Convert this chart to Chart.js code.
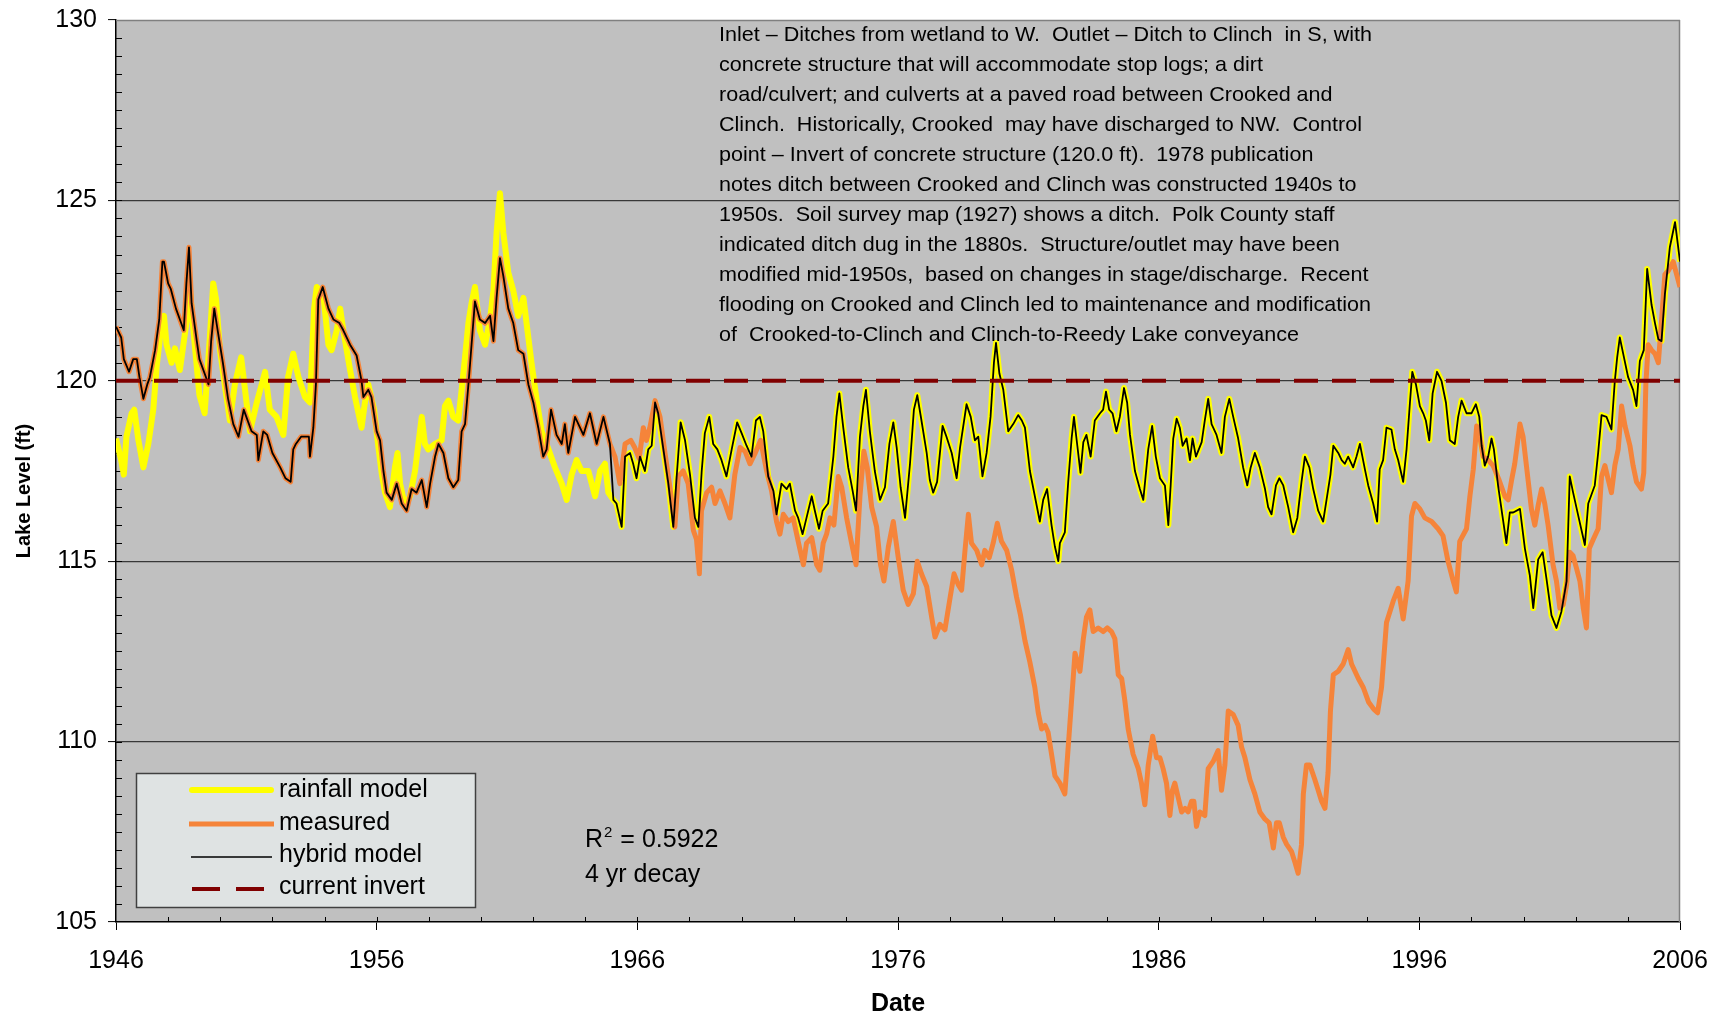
<!DOCTYPE html>
<html>
<head>
<meta charset="utf-8">
<title>Lake Level</title>
<script src="https://cdn.jsdelivr.net/npm/chart.js@4.4.1/dist/chart.umd.min.js"></script>
<style>
  html, body { margin: 0; padding: 0; background: #ffffff; }
  #wrap { width: 1721px; height: 1019px; }
</style>
</head>
<body>
<div id="wrap"><canvas id="lake" width="1721" height="1019"></canvas></div>
<script>
// ---- Lake stage, ft (decimal year, level) ----

// Measured stage 1946-1965; the hybrid model uses these values over this span.
const measuredEarly = [
  [1946.0,121.5],[1946.2,121.2],[1946.3,120.6],[1946.5,120.25],[1946.66,120.6],[1946.8,120.6],[1946.9,120.1],[1947.05,119.5],[1947.2,119.9],[1947.3,120.1],
  [1947.5,120.85],[1947.66,121.7],[1947.78,123.3],[1947.84,123.3],[1948.0,122.7],[1948.1,122.55],[1948.3,122.0],[1948.6,121.4],[1948.7,122.7],[1948.8,123.7],
  [1948.9,122.15],[1949.1,121.1],[1949.2,120.6],[1949.5,120.0],[1949.55,119.9],[1949.65,121.1],[1949.77,122.0],[1949.9,121.4],[1950.1,120.5],[1950.3,119.5],
  [1950.5,118.8],[1950.7,118.45],[1950.9,119.2],[1951.0,119.0],[1951.2,118.6],[1951.4,118.5],[1951.46,117.8],[1951.65,118.6],[1951.8,118.5],[1952.0,118.0],
  [1952.3,117.6],[1952.5,117.3],[1952.7,117.2],[1952.8,118.1],[1952.9,118.25],[1953.1,118.45],[1953.4,118.45],[1953.44,117.9],[1953.57,118.7],[1953.67,119.9],
  [1953.76,122.25],[1953.93,122.6],[1954.15,122.0],[1954.34,121.7],[1954.57,121.6],[1954.72,121.4],[1954.98,121.0],[1955.23,120.7],[1955.42,120.0],[1955.49,119.55],
  [1955.68,119.75],[1955.8,119.55],[1956.0,118.6],[1956.13,118.35],[1956.26,117.5],[1956.38,116.9],[1956.58,116.7],[1956.77,117.15],[1956.96,116.6],[1957.15,116.4],
  [1957.34,117.0],[1957.53,116.9],[1957.73,117.25],[1957.92,116.5],[1958.05,117.15],[1958.24,117.9],[1958.37,118.25],[1958.56,118.0],[1958.75,117.3],[1958.94,117.05],
  [1959.13,117.25],[1959.26,118.6],[1959.39,118.8],[1959.52,119.9],[1959.64,121.0],[1959.77,122.2],[1959.96,121.7],[1960.16,121.6],[1960.35,121.8],[1960.48,121.1],
  [1960.6,122.3],[1960.73,123.4],[1960.86,122.9],[1961.05,122.0],[1961.24,121.6],[1961.43,120.85],[1961.63,120.75],[1961.82,119.9],[1962.01,119.4],[1962.2,118.7],
  [1962.39,117.9],[1962.52,118.1],[1962.69,119.2],[1962.9,118.5],[1963.1,118.25],[1963.22,118.8],[1963.35,118.0],[1963.61,119.0],[1963.93,118.5],[1964.18,119.1],
  [1964.44,118.25],[1964.7,119.0],[1964.95,118.25]
];

// Measured stage 1965-2006.
const measuredLate = [
  [1965.14,117.9],[1965.33,117.15],[1965.53,118.25],[1965.75,118.35],[1965.9,118.15],[1966.07,117.85],[1966.23,118.7],[1966.35,118.35],[1966.48,118.7],[1966.68,119.45],
  [1966.87,119.0],[1967.06,118.0],[1967.25,117.05],[1967.44,115.95],[1967.57,117.35],[1967.76,117.5],[1967.95,117.15],[1968.15,115.85],[1968.27,115.6],[1968.38,114.65],
  [1968.46,116.4],[1968.66,116.9],[1968.85,117.05],[1968.98,116.6],[1969.17,116.95],[1969.36,116.6],[1969.55,116.2],[1969.74,117.4],[1969.94,118.15],[1970.13,118.05],
  [1970.32,117.7],[1970.51,117.98],[1970.73,118.35],[1970.96,117.5],[1971.15,116.95],[1971.34,116.1],[1971.47,115.75],[1971.6,116.3],[1971.79,116.1],[1971.98,116.2],
  [1972.17,115.55],[1972.37,114.9],[1972.49,115.5],[1972.69,115.65],[1972.88,114.9],[1973.0,114.75],[1973.13,115.5],[1973.26,115.75],[1973.39,116.2],[1973.54,116.0],
  [1973.71,117.35],[1973.84,117.05],[1974.03,116.2],[1974.22,115.5],[1974.39,114.9],[1974.54,116.8],[1974.69,118.05],[1974.82,117.6],[1974.99,116.5],[1975.18,115.95],
  [1975.33,114.9],[1975.46,114.45],[1975.63,115.4],[1975.82,116.1],[1976.01,115.1],[1976.2,114.2],[1976.39,113.8],[1976.59,114.1],[1976.74,115.0],[1976.9,114.65],
  [1977.1,114.3],[1977.29,113.45],[1977.42,112.9],[1977.61,113.25],[1977.8,113.1],[1978.0,114.0],[1978.15,114.65],[1978.31,114.35],[1978.44,114.2],[1978.57,115.3],
  [1978.7,116.3],[1978.82,115.5],[1979.02,115.3],[1979.21,114.9],[1979.33,115.3],[1979.5,115.1],[1979.65,115.5],[1979.81,116.05],[1979.97,115.55],[1980.17,115.3],
  [1980.36,114.75],[1980.55,114.0],[1980.7,113.5],[1980.87,112.8],[1981.06,112.2],[1981.25,111.5],[1981.38,110.8],[1981.51,110.35],[1981.64,110.45],[1981.76,110.25],
  [1981.89,109.65],[1982.02,109.05],[1982.21,108.85],[1982.4,108.55],[1982.53,109.85],[1982.66,111.15],[1982.79,112.45],[1982.98,111.95],[1983.11,112.85],[1983.23,113.45],
  [1983.36,113.65],[1983.49,113.05],[1983.68,113.15],[1983.87,113.05],[1984.03,113.15],[1984.19,113.05],[1984.32,112.85],[1984.45,111.85],[1984.58,111.75],[1984.7,111.15],
  [1984.83,110.35],[1985.02,109.65],[1985.22,109.25],[1985.34,108.85],[1985.47,108.25],[1985.6,109.35],[1985.77,110.15],[1985.92,109.55],[1986.05,109.55],[1986.17,109.25],
  [1986.3,108.85],[1986.43,107.95],[1986.53,108.65],[1986.62,108.85],[1986.75,108.45],[1986.88,108.05],[1987.01,108.15],[1987.13,108.05],[1987.26,108.35],[1987.35,108.35],
  [1987.45,107.65],[1987.58,108.05],[1987.77,107.95],[1987.9,109.25],[1988.09,109.45],[1988.28,109.75],[1988.41,108.65],[1988.54,109.35],[1988.67,110.85],[1988.86,110.75],
  [1989.05,110.45],[1989.18,109.85],[1989.31,109.55],[1989.5,108.95],[1989.69,108.55],[1989.88,108.05],[1990.08,107.85],[1990.24,107.75],[1990.4,107.05],[1990.52,107.75],
  [1990.63,107.75],[1990.78,107.35],[1990.91,107.15],[1991.1,106.95],[1991.23,106.65],[1991.35,106.35],[1991.48,107.15],[1991.55,108.55],[1991.67,109.35],[1991.8,109.35],
  [1991.99,108.95],[1992.12,108.65],[1992.25,108.35],[1992.38,108.15],[1992.5,109.15],[1992.59,110.85],[1992.7,111.85],[1992.89,111.95],[1993.08,112.15],[1993.27,112.55],
  [1993.4,112.15],[1993.53,111.95],[1993.66,111.75],[1993.85,111.5],[1994.05,111.1],[1994.25,110.9],[1994.4,110.8],[1994.55,111.5],[1994.74,113.3],[1995.0,113.9],
  [1995.19,114.25],[1995.38,113.4],[1995.57,114.45],[1995.7,116.25],[1995.83,116.6],[1996.02,116.45],[1996.21,116.2],[1996.47,116.1],[1996.72,115.9],[1996.91,115.7],
  [1997.1,115.0],[1997.3,114.45],[1997.42,114.15],[1997.55,115.55],[1997.81,115.9],[1997.94,116.8],[1998.07,117.55],[1998.2,118.75],[1998.32,118.45],[1998.45,117.9],
  [1998.64,117.8],[1998.83,117.65],[1999.06,117.25],[1999.28,116.8],[1999.41,116.7],[1999.54,117.25],[1999.66,117.7],[1999.86,118.8],[1999.98,118.45],[2000.18,117.2],
  [2000.3,116.45],[2000.43,116.0],[2000.56,116.55],[2000.69,117.0],[2000.81,116.6],[2000.94,116.0],[2001.13,114.9],[2001.26,114.45],[2001.39,113.7],[2001.52,113.8],
  [2001.65,114.35],[2001.77,115.25],[2001.9,115.15],[2002.03,114.8],[2002.16,114.45],[2002.29,113.7],[2002.41,113.15],[2002.52,115.35],[2002.67,115.6],[2002.86,115.9],
  [2002.99,117.35],[2003.12,117.65],[2003.25,117.25],[2003.37,116.9],[2003.5,117.65],[2003.63,118.1],[2003.76,119.3],[2003.89,118.75],[2004.08,118.2],[2004.2,117.65],
  [2004.33,117.2],[2004.52,117.0],[2004.61,117.45],[2004.69,119.9],[2004.78,121.0],[2004.91,120.85],[2005.04,120.75],[2005.17,120.5],[2005.29,121.65],[2005.42,122.95],
  [2005.55,123.05],[2005.74,123.3],[2005.87,122.95],[2006.0,122.6]
];

// Rainfall model 1946-1965.
const rainfallEarly = [
  [1946.0,118.4],[1946.2,117.8],[1946.3,117.4],[1946.4,118.45],[1946.6,119.1],[1946.7,119.2],[1946.86,118.35],[1947.05,117.6],[1947.24,118.25],[1947.43,119.2],
  [1947.56,120.4],[1947.75,121.6],[1947.84,121.8],[1947.94,121.0],[1948.13,120.5],[1948.26,120.9],[1948.45,120.3],[1948.7,121.6],[1948.84,122.5],[1948.97,121.4],
  [1949.2,119.6],[1949.4,119.1],[1949.6,121.2],[1949.73,122.7],[1949.84,122.25],[1949.99,120.85],[1950.2,119.75],[1950.37,118.9],[1950.56,119.9],[1950.8,120.65],
  [1950.95,119.75],[1951.14,118.6],[1951.4,119.4],[1951.72,120.25],[1951.9,119.2],[1952.16,119.0],[1952.42,118.5],[1952.6,120.1],[1952.8,120.75],[1953.0,120.1],
  [1953.25,119.55],[1953.44,119.4],[1953.6,122.0],[1953.7,122.6],[1953.95,122.4],[1954.15,121.0],[1954.27,120.85],[1954.47,121.4],[1954.6,122.0],[1954.72,121.4],
  [1954.98,120.3],[1955.17,119.55],[1955.42,118.7],[1955.55,119.4],[1955.68,119.9],[1955.9,119.2],[1956.06,118.2],[1956.2,117.4],[1956.32,116.9],[1956.51,116.5],
  [1956.7,117.6],[1956.8,118.0],[1956.9,117.15],[1957.09,116.5],[1957.28,116.8],[1957.47,117.5],[1957.73,119.0],[1957.85,118.25],[1957.98,118.1],[1958.24,118.25],
  [1958.49,118.35],[1958.62,119.3],[1958.75,119.45],[1958.94,119.0],[1959.13,118.9],[1959.26,119.75],[1959.39,120.65],[1959.52,121.6],[1959.64,122.15],[1959.77,122.6],
  [1959.96,121.4],[1960.16,121.0],[1960.35,121.7],[1960.48,122.5],[1960.6,124.1],[1960.73,125.2],[1960.86,124.1],[1961.05,123.0],[1961.24,122.5],[1961.43,121.8],
  [1961.63,122.3],[1961.75,121.6],[1961.94,120.5],[1962.14,119.45],[1962.33,118.6],[1962.59,118.1],[1962.84,117.6],[1963.1,117.15],[1963.29,116.7],[1963.48,117.4],
  [1963.67,117.8],[1963.86,117.5],[1964.12,117.5],[1964.38,116.8],[1964.57,117.5],[1964.76,117.7],[1964.89,116.9]
];

// Model stage 1965-2006, where the rainfall and hybrid models coincide.
const modelLate = [
  [1965.08,116.7],[1965.2,116.6],[1965.4,115.95],[1965.53,117.9],[1965.72,118.0],[1965.84,117.7],[1965.97,117.3],[1966.1,117.9],[1966.29,117.5],[1966.42,118.1],
  [1966.55,118.2],[1966.68,119.4],[1966.8,119.1],[1967.0,118.1],[1967.19,117.15],[1967.38,115.95],[1967.5,117.25],[1967.66,118.85],[1967.83,118.35],[1968.02,117.4],
  [1968.21,116.2],[1968.34,115.95],[1968.47,117.5],[1968.59,118.55],[1968.76,119.0],[1968.91,118.25],[1969.07,118.1],[1969.23,117.8],[1969.42,117.35],[1969.62,118.1],
  [1969.83,118.85],[1970.0,118.55],[1970.19,118.2],[1970.38,117.9],[1970.55,118.9],[1970.7,119.0],[1970.83,118.6],[1971.02,117.35],[1971.22,116.95],[1971.34,116.3],
  [1971.53,117.15],[1971.73,117.0],[1971.85,117.15],[1972.05,116.4],[1972.17,116.2],[1972.34,115.75],[1972.49,116.2],[1972.69,116.8],[1972.81,116.4],[1972.97,115.9],
  [1973.11,116.4],[1973.32,116.6],[1973.52,117.9],[1973.64,119.0],[1973.75,119.65],[1973.9,118.7],[1974.09,117.6],[1974.26,116.95],[1974.39,116.4],[1974.54,118.45],
  [1974.67,119.3],[1974.77,119.75],[1974.92,118.6],[1975.11,117.5],[1975.31,116.7],[1975.5,117.05],[1975.67,118.25],[1975.82,118.85],[1975.95,118.15],[1976.1,117.05],
  [1976.27,116.2],[1976.46,117.7],[1976.61,119.2],[1976.74,119.6],[1976.9,118.9],[1977.1,118.0],[1977.22,117.25],[1977.35,116.9],[1977.5,117.2],[1977.71,118.75],
  [1977.86,118.45],[1978.06,118.0],[1978.25,117.3],[1978.38,118.15],[1978.63,119.35],[1978.79,119.0],[1978.95,118.35],[1979.08,118.45],[1979.24,117.35],[1979.4,118.0],
  [1979.55,119.0],[1979.68,120.5],[1979.76,121.05],[1979.89,120.2],[1980.04,119.75],[1980.23,118.6],[1980.42,118.8],[1980.61,119.05],[1980.75,118.9],[1980.87,118.7],
  [1981.06,117.5],[1981.25,116.8],[1981.44,116.1],[1981.57,116.7],[1981.72,117.0],[1981.89,116.0],[1982.02,115.4],[1982.15,115.0],[1982.21,115.5],[1982.4,115.8],
  [1982.53,117.2],[1982.66,118.4],[1982.75,119.0],[1982.88,118.2],[1983.0,117.45],[1983.11,118.3],[1983.23,118.5],[1983.39,117.9],[1983.55,118.9],[1983.75,119.1],
  [1983.87,119.2],[1983.98,119.7],[1984.1,119.2],[1984.23,119.1],[1984.38,118.6],[1984.51,119.0],[1984.67,119.8],[1984.79,119.4],[1984.9,118.5],[1985.09,117.5],
  [1985.28,117.0],[1985.41,116.7],[1985.6,118.1],[1985.75,118.75],[1985.89,117.9],[1986.05,117.3],[1986.24,117.1],[1986.37,116.0],[1986.46,117.1],[1986.56,118.4],
  [1986.69,118.95],[1986.81,118.7],[1986.92,118.2],[1987.07,118.4],[1987.2,117.8],[1987.3,118.4],[1987.43,117.9],[1987.65,118.3],[1987.77,118.9],[1987.9,119.5],
  [1988.03,118.8],[1988.22,118.5],[1988.41,118.0],[1988.54,119.0],[1988.71,119.5],[1988.86,119.0],[1989.05,118.4],[1989.24,117.6],[1989.4,117.1],[1989.53,117.6],
  [1989.69,118.0],[1989.88,117.6],[1990.08,117.0],[1990.2,116.5],[1990.33,116.3],[1990.5,117.1],[1990.63,117.3],[1990.78,117.1],[1990.97,116.5],[1991.16,115.8],
  [1991.32,116.2],[1991.48,117.2],[1991.61,117.9],[1991.78,117.6],[1991.93,117.0],[1992.12,116.4],[1992.31,116.1],[1992.44,116.7],[1992.59,117.4],[1992.7,118.2],
  [1992.89,118.0],[1993.02,117.8],[1993.14,117.7],[1993.27,117.9],[1993.46,117.6],[1993.59,117.9],[1993.72,118.25],[1993.91,117.55],[1994.04,117.1],[1994.23,116.6],
  [1994.38,116.1],[1994.48,117.55],[1994.61,117.8],[1994.74,118.7],[1994.93,118.65],[1995.06,118.1],[1995.19,117.8],[1995.38,117.2],[1995.51,118.1],[1995.64,119.4],
  [1995.73,120.25],[1995.87,119.9],[1996.02,119.3],[1996.15,119.1],[1996.25,118.9],[1996.38,118.35],[1996.51,119.65],[1996.68,120.25],[1996.85,120.0],[1997.02,119.4],
  [1997.17,118.35],[1997.36,118.25],[1997.49,119.0],[1997.62,119.45],[1997.81,119.1],[1998.0,119.1],[1998.17,119.35],[1998.3,119.0],[1998.39,118.2],[1998.51,117.65],
  [1998.64,117.9],[1998.77,118.4],[1998.86,118.1],[1999.02,117.1],[1999.19,116.25],[1999.34,115.5],[1999.47,116.35],[1999.6,116.35],[1999.86,116.45],[2000.05,115.35],
  [2000.24,114.6],[2000.37,113.7],[2000.56,115.05],[2000.73,115.25],[2000.88,114.5],[2001.07,113.5],[2001.26,113.15],[2001.45,113.6],[2001.65,114.45],[2001.77,117.35],
  [2001.9,116.9],[2002.1,116.25],[2002.35,115.45],[2002.48,116.6],[2002.73,117.1],[2002.86,118.0],[2002.99,119.05],[2003.18,119.0],[2003.37,118.65],[2003.5,120.0],
  [2003.59,120.65],[2003.69,121.2],[2003.85,120.65],[2004.01,120.1],[2004.2,119.75],[2004.33,119.3],[2004.46,120.55],[2004.61,120.85],[2004.74,123.1],[2004.91,122.1],
  [2005.04,121.6],[2005.17,121.15],[2005.29,121.1],[2005.42,122.4],[2005.61,123.7],[2005.81,124.4],[2006.0,123.3]
];

const invertLevel = 120.0;                 // current invert, ft
const invertSpan = [1946, 2006];
const yearTicks = [1946, 1956, 1966, 1976, 1986, 1996, 2006];
const levelTicks = [105, 110, 115, 120, 125, 130];
const seriesNames = ['rainfall model', 'measured', 'hybrid model', 'current invert'];
const fitLines = ['R\u00b2 = 0.5922', '4 yr decay'];
const noteLines = [
  'Inlet \u2013 Ditches from wetland to W.  Outlet \u2013 Ditch to Clinch  in S, with',
  'concrete structure that will accommodate stop logs; a dirt',
  'road/culvert; and culverts at a paved road between Crooked and',
  'Clinch.  Historically, Crooked  may have discharged to NW.  Control',
  'point \u2013 Invert of concrete structure (120.0 ft).  1978 publication',
  'notes ditch between Crooked and Clinch was constructed 1940s to',
  '1950s.  Soil survey map (1927) shows a ditch.  Polk County staff',
  'indicated ditch dug in the 1880s.  Structure/outlet may have been',
  'modified mid-1950s,  based on changes in stage/discharge.  Recent',
  'flooding on Crooked and Clinch led to maintenance and modification',
  'of  Crooked-to-Clinch and Clinch-to-Reedy Lake conveyance'
];

// ---- drawing ----
const FONT = "'Liberation Sans', Arial, Helvetica, sans-serif";
const COLORS = { rain: '#FFFF00', meas: '#F5843A', hybrid: '#000000', invert: '#800000', plot: '#C0C0C0' };

const toPoints = (pairs) => pairs.map(([x, y]) => ({ x, y }));
const measured = toPoints(measuredEarly.concat(measuredLate));
const rainfall = toPoints(rainfallEarly.concat(modelLate));
const hybrid = toPoints(measuredEarly.concat(modelLate));
const invert = invertSpan.map(x => ({ x, y: invertLevel }));

const decor = {
  id: 'decor',
  beforeDraw(chart) {
    const { ctx, chartArea: a } = chart;
    ctx.save();
    ctx.fillStyle = '#ffffff';
    ctx.fillRect(0, 0, chart.width, chart.height);
    ctx.fillStyle = COLORS.plot;
    ctx.fillRect(a.left, a.top, a.right - a.left, a.bottom - a.top);
    ctx.restore();
  },
  beforeDatasetsDraw(chart) {
    const { ctx, chartArea: a, scales: { x, y } } = chart;
    ctx.save();
    // top and right frame
    ctx.strokeStyle = '#808080';
    ctx.lineWidth = 1.5;
    ctx.beginPath();
    ctx.moveTo(a.left, a.top + 0.5); ctx.lineTo(a.right, a.top + 0.5);
    ctx.moveTo(a.right - 0.5, a.top); ctx.lineTo(a.right - 0.5, a.bottom);
    ctx.stroke();
    // inside minor ticks
    ctx.strokeStyle = '#000';
    ctx.lineWidth = 1;
    ctx.beginPath();
    for (let v = 105.5; v < 130; v += 0.5) {
      const py = Math.round(y.getPixelForValue(v)) + 0.5;
      ctx.moveTo(a.left, py); ctx.lineTo(a.left + 6, py);
    }
    for (let yr = 1948; yr < 2006; yr += 2) {
      const px = Math.round(x.getPixelForValue(yr)) + 0.5;
      ctx.moveTo(px, a.bottom); ctx.lineTo(px, a.bottom - 5);
    }
    ctx.stroke();
    ctx.restore();
  },
  afterDatasetsDraw(chart) {
    const { ctx } = chart;
    ctx.save();

    // note block
    ctx.fillStyle = '#000';
    ctx.font = '21px ' + FONT;
    ctx.textAlign = 'left';
    ctx.textBaseline = 'alphabetic';
    const sx = 653 / ctx.measureText(noteLines[0]).width;
    noteLines.forEach((t, i) => {
      ctx.save();
      ctx.translate(719, 41 + 30 * i);
      ctx.scale(sx, 1);
      ctx.fillText(t, 0, 0);
      ctx.restore();
    });

    // fit statistics
    ctx.font = '25px ' + FONT;
    const rW = ctx.measureText('R').width;
    ctx.fillText('R', 585, 847);
    ctx.font = '15px ' + FONT;
    ctx.fillText('2', 585 + rW + 1, 837);
    const sW = ctx.measureText('2').width;
    ctx.font = '25px ' + FONT;
    ctx.fillText(fitLines[0].slice(2), 585 + rW + sW + 2, 847);
    ctx.fillText(fitLines[1], 585, 882);

    // legend box
    ctx.fillStyle = '#DFE3E3';
    ctx.fillRect(136, 773, 340, 135);
    ctx.strokeStyle = '#404040';
    ctx.lineWidth = 1.5;
    ctx.strokeRect(136.5, 773.5, 339, 134);

    ctx.lineCap = 'round';
    ctx.strokeStyle = COLORS.rain; ctx.lineWidth = 6;
    ctx.beginPath(); ctx.moveTo(192, 790); ctx.lineTo(271, 790); ctx.stroke();
    ctx.lineCap = 'butt';
    ctx.strokeStyle = COLORS.meas; ctx.lineWidth = 5;
    ctx.beginPath(); ctx.moveTo(189, 824); ctx.lineTo(274, 824); ctx.stroke();
    ctx.strokeStyle = COLORS.hybrid; ctx.lineWidth = 1.5;
    ctx.beginPath(); ctx.moveTo(191, 857); ctx.lineTo(272, 857); ctx.stroke();
    ctx.strokeStyle = COLORS.invert; ctx.lineWidth = 4;
    ctx.beginPath();
    ctx.moveTo(192, 889); ctx.lineTo(220, 889);
    ctx.moveTo(236, 889); ctx.lineTo(264, 889);
    ctx.stroke();

    ctx.fillStyle = '#000';
    ctx.font = '25px ' + FONT;
    [797, 830, 862, 894].forEach((by, i) => ctx.fillText(seriesNames[i], 279, by));

    // axis titles
    ctx.textAlign = 'center';
    ctx.textBaseline = 'middle';
    ctx.font = 'bold 25px ' + FONT;
    ctx.fillText('Date', 898, 1004);
    ctx.font = 'bold 20px ' + FONT;
    ctx.save();
    ctx.translate(24, 491);
    ctx.rotate(-Math.PI / 2);
    ctx.fillText('Lake Level (ft)', 0, 0);
    ctx.restore();

    ctx.restore();
  }
};

new Chart(document.getElementById('lake'), {
  type: 'line',
  data: {
    datasets: [
      { label: seriesNames[3], data: invert, borderColor: COLORS.invert, borderWidth: 4, borderDash: [24, 14], borderCapStyle: 'butt' },
      { label: seriesNames[2], data: hybrid, borderColor: COLORS.hybrid, borderWidth: 1.8 },
      { label: seriesNames[1], data: measured, borderColor: COLORS.meas, borderWidth: 5 },
      { label: seriesNames[0], data: rainfall, borderColor: COLORS.rain, borderWidth: 6 }
    ]
  },
  options: {
    responsive: false,
    animation: false,
    events: [],
    layout: { padding: { left: 0, right: 41, top: 20, bottom: 0 } },
    elements: {
      point: { radius: 0 },
      line: { tension: 0, borderJoinStyle: 'round', fill: false }
    },
    plugins: { legend: { display: false }, tooltip: { enabled: false } },
    scales: {
      x: {
        type: 'linear',
        min: 1946, max: 2006,
        afterFit(s) { s.height = 97; s.paddingLeft = 0; s.paddingRight = 0; },
        afterBuildTicks(s) { s.ticks = yearTicks.map(v => ({ value: v })); },
        ticks: { callback: v => String(v), color: '#000', font: { family: FONT, size: 25 }, padding: 16, maxRotation: 0, autoSkip: false },
        grid: { drawOnChartArea: false, drawTicks: true, tickLength: 8, tickColor: '#000', tickWidth: 1 },
        border: { color: '#000', width: 1.5 }
      },
      y: {
        type: 'linear',
        min: 105, max: 130,
        afterFit(s) { s.width = 116; s.paddingTop = 0; s.paddingBottom = 0; },
        afterBuildTicks(s) { s.ticks = levelTicks.map(v => ({ value: v })); },
        ticks: { callback: v => String(v), color: '#000', font: { family: FONT, size: 25 }, padding: 11 },
        grid: {
          drawTicks: true, tickLength: 8, tickColor: '#000', tickWidth: 1, lineWidth: 1.2,
          color: c => (c.tick && (c.tick.value === 105 || c.tick.value === 130)) ? 'rgba(0,0,0,0)' : '#383838'
        },
        border: { color: '#000', width: 1.5 }
      }
    }
  },
  plugins: [decor]
});
</script>
</body>
</html>
